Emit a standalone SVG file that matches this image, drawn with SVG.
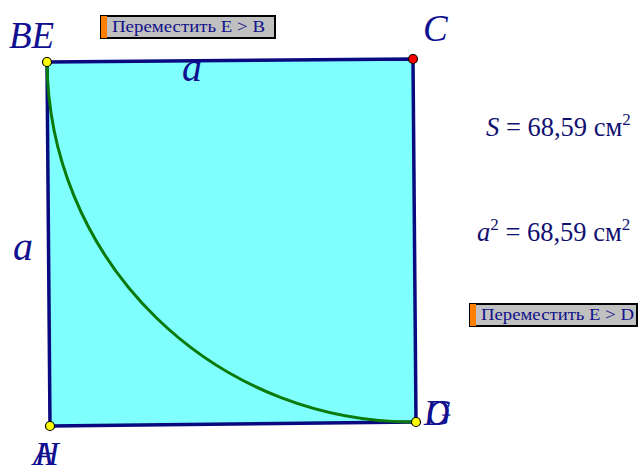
<svg xmlns="http://www.w3.org/2000/svg" width="643" height="469" viewBox="0 0 643 469">
<style>
.lbl{font-family:"Liberation Serif",serif;font-style:italic;fill:#101090}
.txt{font-family:"Liberation Serif",serif;fill:#101070}
.btn rect.b{fill:#c0c0c0;stroke:#000;stroke-width:2}
.btn rect.o{fill:#ff8000}
.btn text{font-family:"Liberation Serif",serif;font-size:16px;fill:#10108a}
.pt{stroke:#000;stroke-width:1.2}
</style>
<g id="square">
<polygon points="47,62 413,59 416,422 50,426" fill="#80ffff" stroke="#0a0a80" stroke-width="3.5" stroke-linejoin="round"/>
</g>
<g id="connectors">
<path d="M47,62 A366,363 0 0 0 416,422" fill="none" stroke="#0a7a0a" stroke-width="3"/>
</g>
<g id="pointBE"><circle class="pt" cx="47" cy="62" r="4.5" fill="#ffff00"/><text class="lbl" x="9" y="48" font-size="37">BE</text></g>
<g id="pointC"><circle class="pt" cx="413" cy="59" r="4.5" fill="#ff0000"/><text class="lbl" x="423" y="41" font-size="37">C</text></g>
<g id="pointAH"><circle class="pt" cx="50" cy="426" r="4.5" fill="#ffff00"/><text class="lbl" x="33" y="465" font-size="33">A</text><text class="lbl" x="35" y="465" font-size="33">H</text></g>
<g id="pointDG"><circle class="pt" cx="416" cy="422" r="4.5" fill="#ffff00"/><text class="lbl" x="424" y="425" font-size="35">D</text><text class="lbl" x="426" y="425" font-size="35">G</text></g>
<g id="labelTop"><text class="lbl" x="182" y="81" font-size="40">a</text></g>
<g id="labelLeft"><text class="lbl" x="13" y="260" font-size="40">a</text></g>
<g id="areaS"><text class="txt" x="486" y="136" font-size="26.5"><tspan font-style="italic">S</tspan> = 68,59 см<tspan font-size="17" dy="-11">2</tspan></text></g>
<g id="areaA"><text class="txt" x="477" y="241" font-size="26.5"><tspan font-style="italic">a</tspan><tspan font-size="17" dy="-11">2</tspan><tspan dy="11"> = 68,59 см</tspan><tspan font-size="17" dy="-11">2</tspan></text></g>
<g id="btnB" class="btn"><rect class="b" x="101" y="16" width="174" height="22"/><rect class="o" x="101" y="16" width="6" height="22"/><text x="112" y="32" textLength="153" lengthAdjust="spacingAndGlyphs">Переместить E &gt; B</text></g>
<g id="btnD" class="btn"><rect class="b" x="470" y="304" width="167" height="22"/><rect class="o" x="470" y="304" width="6" height="22"/><text x="481" y="320" textLength="153" lengthAdjust="spacingAndGlyphs">Переместить E &gt; D</text></g>
</svg>
